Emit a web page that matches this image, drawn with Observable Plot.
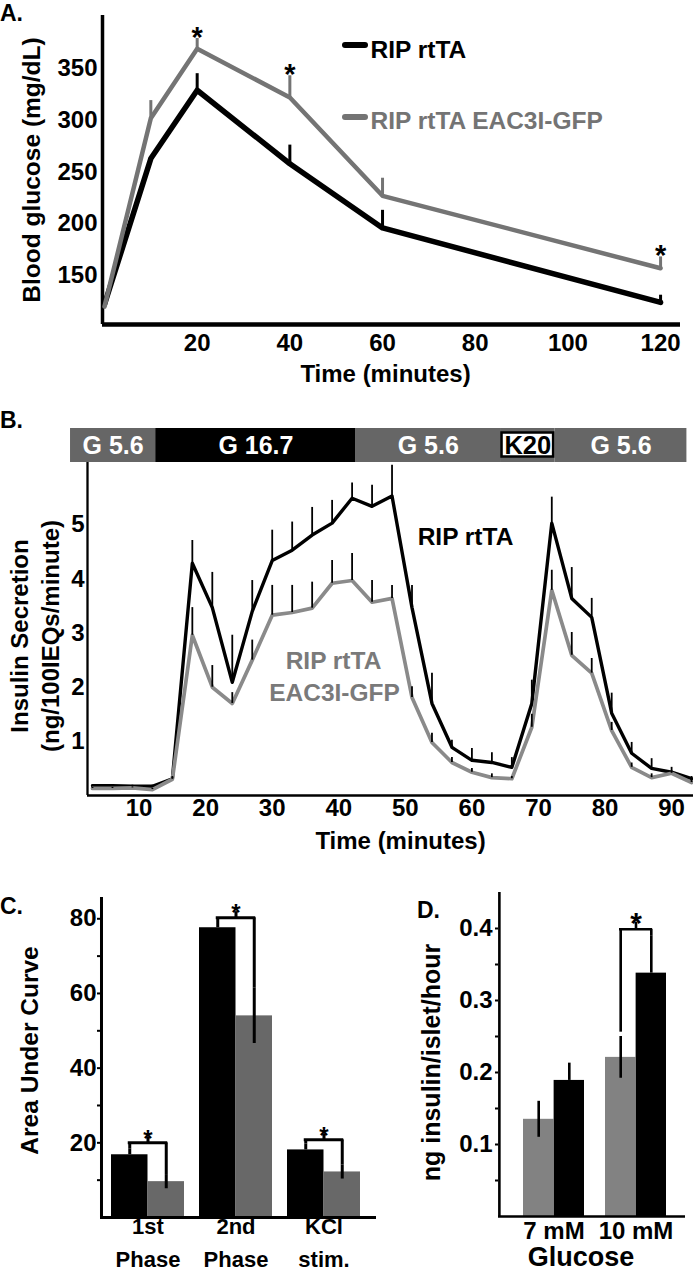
<!DOCTYPE html>
<html>
<head>
<meta charset="utf-8">
<script src="https://cdn.jsdelivr.net/npm/d3@7"></script>
<script src="https://cdn.jsdelivr.net/npm/@observablehq/plot@0.6"></script>
<style>
  body { margin: 0; background: #fff; }
  #root { position: relative; width: 693px; height: 1271px; overflow: hidden; background: #fff;
          font-family: "Liberation Sans", Arial, Helvetica, sans-serif; font-weight: bold; color: #000; }
  .abs { position: absolute; }
  .letter { position: absolute; font-size: 23px; line-height: 1; font-weight: bold; }
  .swatch { position: absolute; width: 26px; height: 5.5px; border-radius: 3px; }
</style>
</head>
<body>
<div id="root"></div>
<script>
// ---------------- DATA ----------------
// Panel A: glucose tolerance
const timeA = [0, 10, 20, 40, 60, 120];
const ripA = [122, 263, 329, 258, 196, 124];
const ripAErr = [0, 0, 16, 18, 17, 7];
const eacA = [120, 302, 369, 322, 227, 157];
const eacAErr = [0, 17, 10, 21, 17, 11];
const sigTimesA = [20, 40, 120];
const tickXA = [20, 40, 60, 80, 100, 120];
const tickYA = [150, 200, 250, 300, 350];
const seriesNames = ["RIP rtTA", "RIP rtTA EAC3I-GFP"];

// Panel B: perifusion
const timeB = [3, 6, 9, 12, 15, 18, 21, 24, 27, 30, 33, 36, 39, 42, 45, 48, 51, 54, 57, 60, 63, 66, 69, 72, 75, 78, 81, 84, 87, 90, 93];
const ripB = [0.18, 0.18, 0.17, 0.17, 0.31, 4.29, 3.47, 2.09, 3.40, 4.34, 4.53, 4.81, 5.03, 5.49, 5.34, 5.53, 3.47, 1.70, 0.89, 0.65, 0.61, 0.52, 1.70, 5.03, 3.64, 3.29, 1.52, 0.78, 0.50, 0.43, 0.31];
const ripBErr = [0.02, 0.02, 0.02, 0.02, 0.04, 0.42, 0.65, 0.87, 0.57, 0.56, 0.52, 0.51, 0.42, 0.28, 0.39, 0.57, 0.41, 0.56, 0.13, 0.22, 0.18, 0.18, 0.43, 0.48, 0.57, 0.35, 0.37, 0.20, 0.18, 0.09, 0.04];
const eacB = [0.13, 0.13, 0.14, 0.11, 0.30, 2.96, 2.00, 1.70, 2.50, 3.33, 3.38, 3.46, 3.92, 3.97, 3.57, 3.64, 1.81, 0.98, 0.61, 0.43, 0.33, 0.31, 1.26, 3.79, 2.59, 2.26, 1.20, 0.52, 0.33, 0.41, 0.24];
const eacBErr = [0.02, 0.02, 0.02, 0.02, 0.03, 0.51, 0.40, 0.20, 0.37, 0.55, 0.50, 0.48, 0.42, 0.50, 0.40, 0.24, 0.20, 0.17, 0.09, 0.07, 0.07, 0.04, 0.24, 0.37, 0.42, 0.27, 0.15, 0.08, 0.07, 0.04, 0.04];
const stimLabel = ["G 5.6", "G 16.7", "G 5.6", "K20", "G 5.6"];
const stimStart = [-0.3, 12.5, 42.6, 64.3, 72.5];
const stimEnd = [12.5, 42.6, 64.3, 72.5, 92.3];
const tickXB = [10, 20, 30, 40, 50, 60, 70, 80, 90];
const tickYB = [1, 2, 3, 4, 5];

// Panel C: area under curve
const catsC = ["1st Phase", "2nd Phase", "KCl stim."];
const ripC = [16.8, 77.6, 18.1];
const ripCErr = [1.6, 1.4, 1.6];
const eacC = [9.6, 54.0, 12.2];
const eacCErr = [1.9, 7.4, 1.9];
const sigLevelC = [20.0, 80.3, 20.8];
const tickYC = [20, 40, 60, 80];
const minorYC = [10, 20, 30, 40, 50, 60, 70, 80];

// Panel D: static secretion
const catsD = ["7 mM", "10 mM"];
const eacD = [0.135, 0.221];
const eacDErr = [0.025, 0.029];
const ripD = [0.189, 0.338];
const ripDErr = [0.024, 0.052];
const sigCatsD = ["10 mM"];
const sigLevelD = [0.399];
const tickYD = [0.1, 0.2, 0.3, 0.4];
const minorYD = [0.05, 0.1, 0.15, 0.2, 0.25, 0.3, 0.35, 0.4];

// ---------------- LAYOUT / STYLE ----------------
const FONT = '"Liberation Sans", Arial, Helvetica, sans-serif';
const BLACK = "#000";
const GRAY_A = "#747474";
const GRAY_B = "#8a8a8a";
const GRAY_C = "#686868";
const GRAY_D = "#828282";
const BAR_GRAY = "#666666";
const root = document.getElementById("root");
const baseStyle = {fontFamily: FONT, fontWeight: "bold", fontSize: "24px", background: "transparent", overflow: "visible", color: "#000"};

function place(el, left, top, w) {
  const d = document.createElement("div");
  d.className = "abs";
  d.style.left = left + "px"; d.style.top = top + "px"; d.style.width = w + "px";
  d.appendChild(el);
  root.appendChild(d);
}
function letter(txt, left, top) {
  const d = document.createElement("div");
  d.className = "letter"; d.textContent = txt;
  d.style.left = left + "px"; d.style.top = top + "px";
  root.appendChild(d);
}
function swatch(color, left, top) {
  const d = document.createElement("div");
  d.className = "swatch"; d.style.background = color;
  d.style.left = left + "px"; d.style.top = top + "px";
  root.appendChild(d);
}
const txt = d => d;
const plain = d => String(d);

// ---------------- PANEL A ----------------
{
  const m = {top: 15, right: 13, bottom: 76, left: 102};
  const xDom = [-0.43, 124.3], yDom = [102.7, 401.2];
  const rip = timeA.map((t, i) => ({t, v: ripA[i], e: ripAErr[i]}));
  const eac = timeA.map((t, i) => ({t, v: eacA[i], e: eacAErr[i]}));
  const sig = eac.filter(d => sigTimesA.includes(d.t));
  const p = Plot.plot({
    width: 693, height: 400,
    marginTop: m.top, marginRight: m.right, marginBottom: m.bottom, marginLeft: m.left,
    style: baseStyle,
    x: {domain: xDom, axis: null},
    y: {domain: yDom, axis: null},
    marks: [
      Plot.ruleX([xDom[0]], {stroke: BLACK, strokeWidth: 3.5}),
      Plot.ruleY([yDom[0]], {stroke: BLACK, strokeWidth: 4.5}),
      Plot.axisX({ticks: tickXA, tickSize: 0, tickPadding: 9, tickFormat: plain, fontSize: 24, label: null}),
      Plot.axisY({ticks: tickYA, tickSize: 0, tickPadding: 5, tickFormat: plain, fontSize: 24, label: null}),
      Plot.ruleX(rip, {x: "t", y1: "v", y2: d => d.v + d.e, stroke: BLACK, strokeWidth: 3}),
      Plot.line(rip, {x: "t", y: "v", stroke: BLACK, strokeWidth: 5.5, strokeLinecap: "round", strokeLinejoin: "round"}),
      Plot.ruleX(eac, {x: "t", y1: "v", y2: d => d.v + d.e, stroke: GRAY_A, strokeWidth: 3}),
      Plot.line(eac, {x: "t", y: "v", stroke: GRAY_A, strokeWidth: 4.5, strokeLinecap: "round", strokeLinejoin: "round"}),
      Plot.text(sig, {x: "t", y: d => d.v + d.e, text: () => "*", fontSize: 29, dy: -1, lineAnchor: "middle"}),
      Plot.text(["Time (minutes)"], {text: txt, frameAnchor: "bottom", dx: -6, dy: 57, lineAnchor: "bottom", textAnchor: "middle", fontSize: 24}),
      Plot.text(["Blood glucose (mg/dL)"], {text: txt, frameAnchor: "left", dx: -70, rotate: -90, textAnchor: "middle", lineAnchor: "middle", fontSize: 24.5}),
      Plot.text([seriesNames[0]], {text: txt, frameAnchor: "top-left", dx: 268, dy: 42, textAnchor: "start", lineAnchor: "bottom", fontSize: 24.5, fill: BLACK}),
      Plot.text([seriesNames[1]], {text: txt, frameAnchor: "top-left", dx: 268, dy: 113, textAnchor: "start", lineAnchor: "bottom", fontSize: 24.5, fill: GRAY_A})
    ]
  });
  place(p, 0, 0, 693);
  swatch(BLACK, 342, 42);
  swatch(GRAY_A, 342, 114);
  letter("A.", 0, 2);
}

// ---------------- PANEL B ----------------
{
  const xDom = [2.25, 93.29];
  const m = {top: 0, right: 0, bottom: 67, left: 87};
  const stim = stimLabel.map((s, i) => ({label: s, a: stimStart[i], b: stimEnd[i]}));
  const stimFill = s => s === "G 16.7" ? "#000" : s === "K20" ? "#fff" : BAR_GRAY;
  const bar = Plot.plot({
    width: 693, height: 34,
    marginTop: 0, marginRight: 0, marginBottom: 0, marginLeft: 87,
    style: baseStyle,
    x: {domain: xDom, axis: null},
    marks: [
      Plot.rect(stim.filter(d => d.label !== "K20"), {x1: "a", x2: "b", fill: d => stimFill(d.label)}),
      Plot.rect(stim.filter(d => d.label === "K20"), {x1: "a", x2: "b", fill: BAR_GRAY}),
      Plot.rect(stim.filter(d => d.label === "K20"), {x1: "a", x2: "b", fill: "#fff", stroke: "#000", strokeWidth: 2.5, insetTop: 4.5, insetBottom: 5.5, insetLeft: 1.5, insetRight: 1.5}),
      Plot.text(stim.filter(d => d.label !== "K20"), {x: d => (d.a + d.b) / 2, text: "label", fill: "#fff", fontSize: 25, frameAnchor: "middle"}),
      Plot.text(stim.filter(d => d.label === "K20"), {x: d => (d.a + d.b) / 2, text: "label", fill: "#000", fontSize: 25.5, frameAnchor: "middle"})
    ]
  });
  place(bar, 0, 428, 693);

  const rip = timeB.map((t, i) => ({t, v: ripB[i], e: ripBErr[i]}));
  const eac = timeB.map((t, i) => ({t, v: eacB[i], e: eacBErr[i]}));
  const p = Plot.plot({
    width: 693, height: 400,
    marginTop: m.top, marginRight: m.right, marginBottom: m.bottom, marginLeft: m.left,
    style: baseStyle,
    x: {domain: xDom, axis: null},
    y: {domain: [0, 6.15], axis: null},
    marks: [
      Plot.ruleX([xDom[0]], {stroke: BLACK, strokeWidth: 2.3}),
      Plot.ruleY([0], {stroke: BLACK, strokeWidth: 2.3}),
      Plot.axisX({ticks: tickXB, tickSize: 0, tickPadding: 3, tickFormat: plain, fontSize: 24, label: null}),
      Plot.axisY({ticks: tickYB, tickSize: 0, tickPadding: 3, tickFormat: plain, fontSize: 24, label: null}),
      Plot.line(rip, {x: "t", y: "v", stroke: BLACK, strokeWidth: 3.4, strokeLinejoin: "round"}),
      Plot.line(eac, {x: "t", y: "v", stroke: GRAY_B, strokeWidth: 3.7, strokeLinejoin: "round"}),
      Plot.ruleX(rip, {x: "t", y1: "v", y2: d => d.v + d.e, stroke: BLACK, strokeWidth: 1.8}),
      Plot.ruleX(eac, {x: "t", y1: "v", y2: d => d.v + d.e, stroke: BLACK, strokeWidth: 1.8}),
      Plot.text([seriesNames[0]], {text: txt, frameAnchor: "top-left", dx: 378, dy: 82, textAnchor: "middle", lineAnchor: "bottom", fontSize: 24.5, fill: BLACK}),
      Plot.text(["RIP rtTA"], {text: txt, frameAnchor: "top-left", dx: 246, dy: 206, textAnchor: "middle", lineAnchor: "bottom", fontSize: 24.5, fill: "#7a7a7a"}),
      Plot.text(["EAC3I-GFP"], {text: txt, frameAnchor: "top-left", dx: 247, dy: 238, textAnchor: "middle", lineAnchor: "bottom", fontSize: 24.5, fill: "#7a7a7a"}),
      Plot.text(["Time (minutes)"], {text: txt, frameAnchor: "bottom", dx: 10, dy: 53, lineAnchor: "bottom", textAnchor: "middle", fontSize: 24}),
      Plot.text(["Insulin Secretion"], {text: txt, frameAnchor: "left", dx: -67, dy: 7, rotate: -90, textAnchor: "middle", lineAnchor: "middle", fontSize: 24}),
      Plot.text(["(ng/100IEQs/minute)"], {text: txt, frameAnchor: "left", dx: -36, dy: 7, rotate: -90, textAnchor: "middle", lineAnchor: "middle", fontSize: 24})
    ]
  });
  place(p, 0, 462, 693);
  letter("B.", 0, 409);
}

// ---------------- PANEL C ----------------
{
  const m = {top: 17, right: 4, bottom: 54, left: 100};
  const range = [110, 360], pInner = 0.175;
  const bw = d3.scaleBand().domain(catsC).range(range).paddingInner(pInner).paddingOuter(0).bandwidth();
  const axisDx = m.left - (range[0] + bw / 2);
  const rows = catsC.map((c, i) => ({cat: c, l1: c.split(" ")[0], l2: c.split(" ")[1],
    rip: ripC[i], ripE: ripCErr[i], eac: eacC[i], eacE: eacCErr[i], level: sigLevelC[i]}));
  const p = Plot.plot({
    width: 380, height: 391,
    marginTop: m.top, marginRight: m.right, marginBottom: m.bottom, marginLeft: m.left,
    style: baseStyle,
    x: {type: "band", domain: catsC, range, paddingInner: pInner, paddingOuter: 0, axis: null},
    y: {domain: [0, 85.7], axis: null},
    marks: [
      Plot.barY(rows, {x: "cat", y: "rip", fill: BLACK, insetRight: bw / 2}),
      Plot.barY(rows, {x: "cat", y: "eac", fill: GRAY_C, insetLeft: bw / 2}),
      Plot.ruleX(rows, {x: "cat", y1: "rip", y2: d => d.rip + d.ripE, dx: -bw / 4, stroke: BLACK, strokeWidth: 3}),
      Plot.ruleX(rows, {x: "cat", y1: d => d.eac - d.eacE, y2: d => d.eac + d.eacE, dx: bw / 4, stroke: BLACK, strokeWidth: 3}),
      Plot.tickY(rows, {x: "cat", y: "level", insetLeft: bw / 4 - 1.5, insetRight: bw / 4 - 1.5, stroke: BLACK, strokeWidth: 3}),
      Plot.ruleX(rows, {x: "cat", y1: "level", y2: d => d.rip + d.ripE, dx: -bw / 4, stroke: BLACK, strokeWidth: 3}),
      Plot.ruleX(rows, {x: "cat", y1: "level", y2: d => d.eac + d.eacE, dx: bw / 4, stroke: BLACK, strokeWidth: 3}),
      Plot.ruleX(rows, {x: "cat", y1: "level", y2: "level", insetTop: -6, stroke: BLACK, strokeWidth: 3}),
      Plot.text(rows, {x: "cat", y: "level", text: () => "*", fontSize: 24, dy: -4, lineAnchor: "middle"}),
      Plot.ruleY([0], {stroke: BLACK, strokeWidth: 3}),
      Plot.ruleX([catsC[0]], {x: txt, dx: axisDx, stroke: BLACK, strokeWidth: 3}),
      Plot.axisY({ticks: minorYC, tickSize: 3, tickFormat: () => "", label: null, strokeWidth: 2}),
      Plot.axisY({ticks: tickYC, tickSize: 0, tickPadding: 4, tickFormat: plain, fontSize: 24, label: null}),
      Plot.text(rows, {x: "cat", text: "l1", frameAnchor: "bottom", lineAnchor: "bottom", dy: 16, fontSize: 22}),
      Plot.text(rows, {x: "cat", text: "l2", frameAnchor: "bottom", lineAnchor: "bottom", dy: 49, fontSize: 22}),
      Plot.text(["Area Under Curve"], {text: txt, frameAnchor: "left", dx: -70, dy: -7, rotate: -90, textAnchor: "middle", lineAnchor: "middle", fontSize: 24.5})
    ]
  });
  place(p, 0, 880, 380);
  letter("C.", 0, 895);
}

// ---------------- PANEL D ----------------
{
  const m = {top: 12, right: 8, bottom: 55, left: 118};
  const range = [142, 286], pInner = 0.26;
  const bw = d3.scaleBand().domain(catsD).range(range).paddingInner(pInner).paddingOuter(0).bandwidth();
  const axisDx = m.left - (range[0] + bw / 2);
  const rows = catsD.map((c, i) => ({cat: c, eac: eacD[i], eacE: eacDErr[i], rip: ripD[i], ripE: ripDErr[i]}));
  const sig = sigCatsD.map((c, i) => {
    const r = rows.find(d => d.cat === c);
    return {...r, level: sigLevelD[i]};
  });
  const p = Plot.plot({
    width: 313, height: 391,
    marginTop: m.top, marginRight: m.right, marginBottom: m.bottom, marginLeft: m.left,
    style: baseStyle,
    x: {type: "band", domain: catsD, range, paddingInner: pInner, paddingOuter: 0, axis: null},
    y: {domain: [0, 0.45], axis: null},
    marks: [
      Plot.barY(rows, {x: "cat", y: "eac", fill: GRAY_D, insetRight: bw / 2}),
      Plot.barY(rows, {x: "cat", y: "rip", fill: BLACK, insetLeft: bw / 2}),
      Plot.ruleX(rows, {x: "cat", y1: d => d.eac - d.eacE, y2: d => d.eac + d.eacE, dx: -bw / 4, stroke: BLACK, strokeWidth: 2.6}),
      Plot.ruleX(rows, {x: "cat", y1: "rip", y2: d => d.rip + d.ripE, dx: bw / 4, stroke: BLACK, strokeWidth: 2.6}),
      Plot.tickY(sig, {x: "cat", y: "level", insetLeft: bw / 4 - 1.3, insetRight: bw / 4 - 1.3, stroke: BLACK, strokeWidth: 2.6}),
      Plot.ruleX(sig, {x: "cat", y1: "level", y2: d => d.eac + d.eacE + 0.006, dx: -bw / 4, stroke: BLACK, strokeWidth: 2.6}),
      Plot.ruleX(sig, {x: "cat", y1: "level", y2: d => d.rip + d.ripE, dx: bw / 4, stroke: BLACK, strokeWidth: 2.6}),
      Plot.ruleX(sig, {x: "cat", y1: "level", y2: "level", insetTop: -7, stroke: BLACK, strokeWidth: 2.6}),
      Plot.text(sig, {x: "cat", y: "level", text: () => "*", fontSize: 30, dy: -6, lineAnchor: "middle"}),
      Plot.ruleY([0], {stroke: BLACK, strokeWidth: 2.6}),
      Plot.ruleX([catsD[0]], {x: txt, dx: axisDx, stroke: BLACK, strokeWidth: 2.6}),
      Plot.axisY({ticks: minorYD, tickSize: 3, tickFormat: () => "", label: null, strokeWidth: 2}),
      Plot.axisY({ticks: tickYD, tickSize: 0, tickPadding: 6, tickFormat: d3.format(".1f"), fontSize: 24, label: null}),
      Plot.text(rows, {x: "cat", text: "cat", frameAnchor: "bottom", lineAnchor: "bottom", dy: 22, fontSize: 24}),
      Plot.text(["Glucose"], {text: txt, frameAnchor: "bottom", dx: -11, dy: 49, lineAnchor: "bottom", textAnchor: "middle", fontSize: 27}),
      Plot.text(["ng insulin/islet/hour"], {text: txt, frameAnchor: "left", dx: -67, dy: 8, rotate: -90, textAnchor: "middle", lineAnchor: "middle", fontSize: 25})
    ]
  });
  place(p, 380, 880, 313);
  letter("D.", 417, 899);
}
</script>
</body>
</html>
